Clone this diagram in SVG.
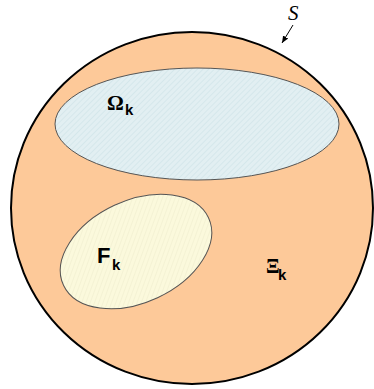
<svg xmlns="http://www.w3.org/2000/svg" width="374" height="389" viewBox="0 0 374 389">
<style>
.lbl{font-family:"Liberation Sans",Arial,sans-serif;font-weight:bold;fill:#000}
.greek{font-family:"Liberation Serif","Times New Roman",serif;font-weight:bold;fill:#000}
.region{stroke:#555;stroke-width:1}
</style>
<defs>
<pattern id="hb" width="4" height="4" patternUnits="userSpaceOnUse" patternTransform="rotate(45)">
<rect width="4" height="4" fill="#e2eff2"/>
<line x1="0" y1="0" x2="0" y2="4" stroke="#c8dfe4" stroke-width="1"/>
</pattern>
<pattern id="hy" width="4" height="4" patternUnits="userSpaceOnUse" patternTransform="rotate(45)">
<rect width="4" height="4" fill="#fbf9dc"/>
<line x1="0" y1="0" x2="0" y2="4" stroke="#eeeccc" stroke-width="1"/>
</pattern>
<marker id="ah" markerWidth="8" markerHeight="8" refX="7" refY="4" orient="auto" markerUnits="userSpaceOnUse">
<path d="M0,1 L7,4 L0,7 z" fill="#000"/>
</marker>
</defs>
<g id="S">
<ellipse cx="192" cy="208" rx="181" ry="176" fill="#fdc999" stroke="#000" stroke-width="2"/>
</g>
<g id="Omega">
<ellipse class="region" cx="197" cy="124" rx="142" ry="56" fill="url(#hb)"/>
</g>
<g id="F">
<ellipse class="region" cx="136" cy="251.5" rx="80" ry="51" transform="rotate(-25 136 251.5)" fill="url(#hy)"/>
</g>
<g id="labels">
<text class="greek" x="107" y="110" font-size="21">Ω</text>
<text class="lbl" x="125" y="115" font-size="15">k</text>
<text class="lbl" x="97" y="263" font-size="22">F</text>
<text class="lbl" x="112" y="270" font-size="15">k</text>
<text class="greek" x="266" y="273" font-size="20">Ξ</text>
<text class="lbl" x="278" y="280" font-size="15">k</text>
<text x="288" y="20" font-family="Liberation Serif,'Times New Roman',serif" font-style="italic" font-size="21">S</text>
</g>
<g id="connectors">
<line x1="293" y1="25" x2="282" y2="43" stroke="#000" stroke-width="1" marker-end="url(#ah)"/>
</g>
</svg>
